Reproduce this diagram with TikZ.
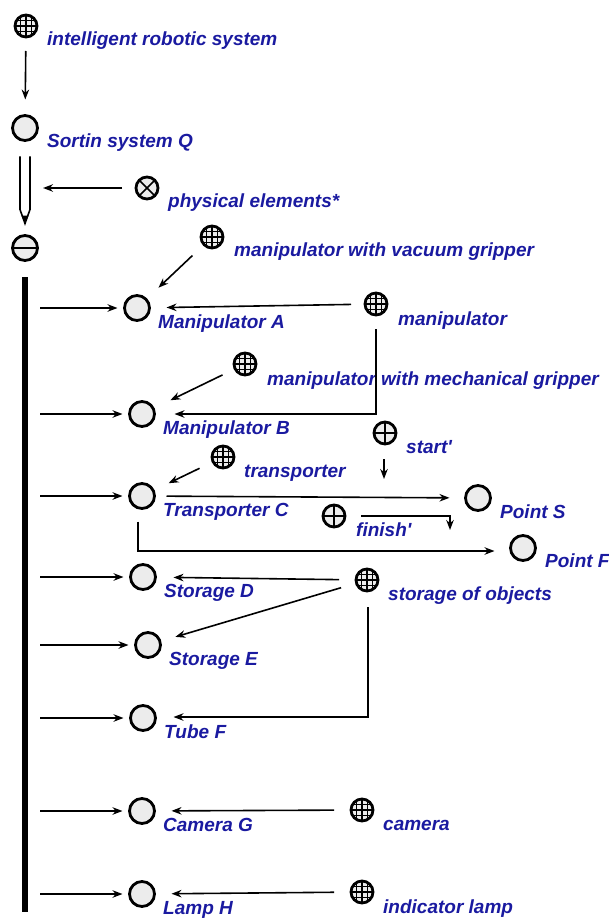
\documentclass[tikz,border=0pt]{standalone}
\usepackage{fontspec}
\setmainfont{Liberation Sans}
\usepackage{tikz}
\usetikzlibrary{calc,arrows.meta}
\definecolor{labblue}{RGB}{26,26,160}
\tikzset{
    elem/.style={circle,draw,line width=2.8pt,fill=gray!15,minimum size=25,inner sep=0pt,outer sep=0pt},
    grid/.style={elem,minimum size=22,path picture={
        \foreach \k in {-5.5,0,5.5}{
          \draw[line width=1.4pt] ([shift={(\k,0)}]path picture bounding box.north) -- ([shift={(\k,0)}]path picture bounding box.south);
          \draw[line width=1.4pt] ([shift={(0,\k)}]path picture bounding box.west) -- ([shift={(0,\k)}]path picture bounding box.east);}}},
    plus/.style={elem,minimum size=22,path picture={
        \draw[line width=1.5pt] (path picture bounding box.north) -- (path picture bounding box.south)
                                (path picture bounding box.west) -- (path picture bounding box.east);}},
    cross/.style={elem,minimum size=22,path picture={
        \draw[line width=1.5pt] (path picture bounding box.north west) -- (path picture bounding box.south east)
                                (path picture bounding box.north east) -- (path picture bounding box.south west);}},
    minus/.style={elem,path picture={
        \draw[line width=1.5pt] (path picture bounding box.west) -- (path picture bounding box.east);}},
    lab/.style={anchor=base west,inner sep=0pt,text=labblue,font=\fontsize{19}{20}\selectfont\bfseries\itshape},
    arr/.style={line width=1.6pt,-{Stealth[length=10pt,width=7.5pt]}},
  }
\begin{document}
\begin{tikzpicture}[x=1pt,y=-1pt]
				  \useasboundingbox (0,0) rectangle (608,920);
				  %systeme Q
				  \node[grid] (R) at (26,26) {};
				  \node[lab] (lR) at ([shift={(21,20)}]R.center) {intelligent robotic system};
				  \node[elem] (Q) at (25,128) {};
				  \node[lab] (lQ) at ([shift={(22,20)}]Q.center) {Sortin system Q};
				  \draw[arr,shorten <=14pt,shorten >=16pt] (R) -- (Q);
				  \node[minus] (Om) at (25,248) {};
				  \draw[line width=1.6pt] ([shift={(-5,16)}]Q.south) -- ([shift={(-5,-26)}]Om.north) -- ([shift={(0,-12)}]Om.north) -- ([shift={(5,-26)}]Om.north) -- ([shift={(5,16)}]Q.south);
				  \fill ([shift={(-3.5,-20)}]Om.north) -- ([shift={(0,-12)}]Om.north) -- ([shift={(3.5,-20)}]Om.north) -- cycle;
				  %elements physiques
				  \node[cross] (X) at (147,188) {};
				  \node[lab] (lX) at ([shift={(21,19)}]X.center) {physical elements*};
				  \coordinate (q) at (43,188);
				  \draw[arr,shorten <=14pt] (X) -- (q);
				  \node[grid] (V) at (212,237) {};
				  \node[lab] (lV) at ([shift={(22,19)}]V.center) {manipulator with vacuum gripper};
				  %barre et lignes A..H
				  \draw[line width=6pt] (25,277) -- (25,912);
				  \coordinate (bar) at (40,277);
				  \foreach \n/\x/\y/\t in {A/137/308/Manipulator A,B/142/414/Manipulator B,C/142/496/Transporter C,D/143/577/Storage D,E/148/645/Storage E,F/143/718/Tube F,G/142/811/Camera G,H/142/894/Lamp H}{
				    \node[elem] (\n) at (\x,\y) {};
				    \node[lab] (l\n) at ([shift={(21,20)}]\n.center) {\t};
				    \draw[arr,shorten >=7pt] (bar |- \n) -- (\n);
				  }
				  \draw[arr,shorten <=16pt,shorten >=17pt] (V) -- (A);
				  %manipulateurs
				  \node[grid] (M) at (376,304) {};
				  \node[lab] (lM) at ([shift={(22,21)}]M.center) {manipulator};
				  \draw[arr,shorten <=14pt,shorten >=17pt] (M) -- (A);
				  \node[grid] (Mm) at (245,364) {};
				  \node[lab] (lMm) at ([shift={(22,21)}]Mm.center) {manipulator with mechanical gripper};
				  \draw[arr] ([shift={(0,14)}]M.south) |- ([shift={(20,0)}]B.east);
				  \draw[arr,shorten <=14pt,shorten >=19pt] (Mm) -- (B);
				  %transporteur
				  \node[plus] (s) at (385,433) {};
				  \node[lab] (ls) at ([shift={(21,20)}]s.center) {start\textquotesingle};
				  \draw[arr] ([shift={(-1,15)}]s.south) -- ++(0,20);
				  \node[grid] (T) at (223,457) {};
				  \node[lab] (lT) at ([shift={(21,20)}]T.center) {transporter};
				  \draw[arr,shorten <=15pt,shorten >=17pt] (T) -- (C);
				  \node[elem] (PS) at (478,498) {};
				  \node[lab] (lPS) at ([shift={(22,20)}]PS.center) {Point S};
				  \draw[arr,shorten <=12pt,shorten >=16pt] (C) -- (PS);
				  \node[plus] (f) at (334,516) {};
				  \node[lab] (lf) at ([shift={(22,20)}]f.center) {finish\textquotesingle};
				  \draw[arr] ([shift={(16,0)}]f.east) -| ++(89,14);
				  \node[elem] (PF) at (523,548) {};
				  \node[lab] (lPF) at ([shift={(22,19)}]PF.center) {Point F};
				  \draw[arr] ([shift={(-4,13)}]C.south) |- ([shift={(-16,3)}]PF.west);
				  %stockage
				  \node[grid] (So) at (367,580) {};
				  \node[lab] (lSo) at ([shift={(21,20)}]So.center) {storage of objects};
				  \draw[arr,shorten <=17pt,shorten >=18pt] (So) -- (D);
				  \draw[arr,shorten <=16pt,shorten >=16pt] (So) -- (E);
				  \draw[arr] ([shift={(1,16)}]So.south) |- ([shift={(18,-1)}]F.east);
				  %camera et lampe
				  \node[grid] (c) at (362,810) {};
				  \node[lab] (lc) at ([shift={(21,20)}]c.center) {camera};
				  \draw[arr,shorten <=17pt,shorten >=17pt] (c) -- (G);
				  \node[grid] (l) at (362,892) {};
				  \node[lab] (ll) at ([shift={(21,21)}]l.center) {indicator lamp};
				  \draw[arr,shorten <=17pt,shorten >=17pt] (l) -- (H);
\end{tikzpicture}
\end{document}
